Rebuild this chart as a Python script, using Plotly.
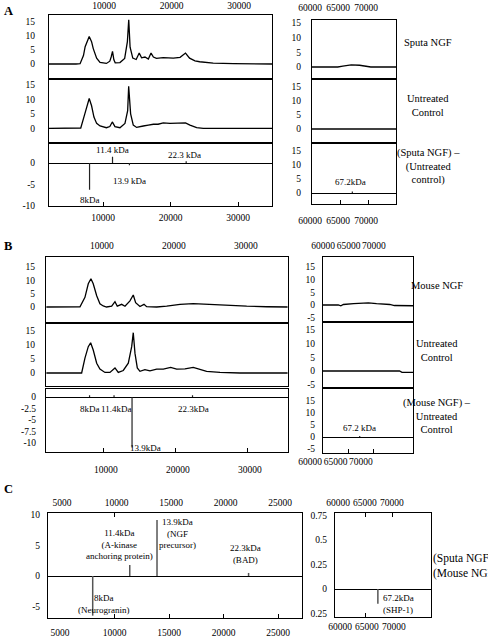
import plotly.graph_objects as go

W, H = 488, 638

# ---------------- data ----------------
# Panel A, left: Sputa NGF spectrum
a_sputa_x = [2000, 4000, 6000, 6600, 7100, 7350, 7700, 7950, 8300, 8550, 9050, 9550, 10500, 11000, 11200,
             11400, 11600, 11800, 12500, 13200, 13600, 13800, 14000, 14400, 14900, 15350, 15700, 16200, 16700,
             17100, 17450, 17900, 18900, 20400, 21400, 22200, 22800, 23600, 24300, 26300, 29300, 32000, 35000]
a_sputa_y = [0, -0.1, 0, 0.1, 3.0, 6.2, 8.8, 9.8, 8.0, 5.5, 2.1, 0.6, 0.2, 1.0, 2.5,
             4.5, 1.5, 0.4, 0.5, 2.0, 8.0, 15.8, 6.0, 2.1, 1.6, 3.9, 2.2, 2.5, 1.8,
             3.9, 2.5, 2.0, 2.3, 2.1, 2.4, 3.9, 2.1, 1.1, 0.8, 0.3, 0.1, 0.0, 0.0]
# Panel A, left: untreated control spectrum
a_ctrl_x = [2000, 4000, 6000, 6700, 7300, 7700, 7950, 8300, 8650, 9050, 9550, 10500, 11000, 11370, 11760,
            12500, 13240, 13640, 13790, 14080, 14470, 14970, 15450, 15950, 16700, 17440, 18150, 18900, 19900,
            20900, 22200, 22860, 23850, 24830, 27800, 32000, 35000]
a_ctrl_y = [0, 0, 0, 0.1, 5.0, 8.3, 10.3, 7.8, 3.9, 1.7, 0.8, 0.2, 0.6, 2.2, 0.6,
            0.2, 1.7, 6.1, 14.5, 5.0, 1.1, 0.3, 0.6, 0.8, 1.1, 1.4, 1.4, 1.9, 1.7,
            1.7, 1.9, 1.1, 0.2, 0.0, 0.1, 0, 0]
# Panel A, difference peaks
a_diff_x = [8000, 11400, 13900, 22300]
a_diff_y = [-6.3, 1.5, -0.5, 0.4]
a_diff_labels = ["8kDa", "11.4 kDa", "13.9 kDa", "22.3 kDa"]
# Panel A, right (60-75 kDa)
a_hi_sputa_x = [60000, 64600, 65500, 66300, 67000, 68500, 69800, 70500, 75000]
a_hi_sputa_y = [0, 0, 0.3, 0.5, 0.7, 0.6, 0.1, 0, 0]
a_hi_ctrl_x = [60000, 75000]
a_hi_ctrl_y = [0, 0]
a_hi_diff_x = [67200]
a_hi_diff_y = [0.5]
a_hi_diff_labels = ["67.2kDa"]

# Panel B, left: Mouse NGF spectrum
b_mouse_x = [2000, 4000, 6000, 6670, 7360, 7820, 8190, 8510, 8990, 9440, 9900, 10360, 11070, 11530, 11850,
             12460, 12920, 13610, 14070, 14400, 15000, 15560, 15930, 17320, 18710, 20560, 22400, 24260, 27040,
             29820, 32600, 35500]
b_mouse_y = [0, 0.1, 0, 0.1, 3.6, 8.7, 10.6, 8.7, 4.2, 1.2, 0.4, 0, 0.3, 2.0, 0.3,
             1.0, 0.3, 2.3, 4.5, 1.6, 0.2, 1.0, 0.1, 0, 0.3, 1.0, 1.3, 1.0, 0.5,
             0.3, 0.1, 0]
# Panel B, left: untreated control spectrum
b_ctrl_x = [2000, 4000, 6000, 6900, 7360, 7820, 8150, 8510, 8990, 9440, 10140, 10830, 11530, 11990, 12680,
            13380, 13850, 14070, 14310, 14630, 15000, 15690, 16390, 17320, 18240, 19260, 20100, 21250, 22400,
            23330, 24260, 26110, 28890, 35500]
b_ctrl_y = [0, 0, 0, 0, 5.3, 9.4, 10.8, 8.2, 3.5, 1.4, 0.2, 0.2, 1.8, 0.2, 0.9,
            3.5, 9.4, 14.4, 7.0, 1.8, 0.6, 1.2, 0.8, 1.4, 1.4, 2.0, 1.4, 1.5, 2.0,
            1.2, 0.6, 0.2, 0, 0]
b_diff_x = [8000, 11400, 13900, 22300]
b_diff_y = [0.4, 0.4, -11.0, 0.4]
b_diff_labels = ["8kDa", "11.4kDa", "13.9kDa", "22.3kDa"]
# Panel B, right
b_hi_mouse_x = [60000, 63000, 63500, 64000, 66000, 68900, 70500, 73100, 74000, 77650]
b_hi_mouse_y = [0, 0, -0.3, 0.2, 0.5, 0.8, 0.5, 0.2, -0.2, -0.3]
b_hi_ctrl_x = [60000, 75000, 75500, 77650]
b_hi_ctrl_y = [0, 0, -0.5, -0.5]
b_hi_diff_x = [67200]
b_hi_diff_y = [0.4]
b_hi_diff_labels = ["67.2 kDa"]

# Panel C
c_diff_x = [8000, 11400, 13900, 22300]
c_diff_y = [-6.5, 1.8, 9.2, 0.5]
c_diff_labels = ["8kDa<br>(Neurogranin)", "11.4kDa<br>(A-kinase<br>anchoring protein)",
                 "13.9kDa<br>(NGF<br>precursor)", "22.3kDa<br>(BAD)"]
c_hi_diff_x = [67200]
c_hi_diff_y = [-0.15]
c_hi_diff_labels = ["67.2kDa<br>(SHP-1)"]

low_ticks_ab = [10000, 20000, 30000]
low_ticks_c = [5000, 10000, 15000, 20000, 25000]
high_ticks = [60000, 65000, 70000]

# ---------------- layout helpers ----------------
SERIF = "Liberation Serif"
TICKFONT = dict(family=SERIF, size=9.5, color="black")
LBLFONT = dict(family=SERIF, size=9, color="black")
TITLEFONT = dict(family=SERIF, size=10.5, color="black")

# panel geometry in pixels: x-span, y-span, x-range, zero pixel, pixels per unit
P = {
    1: dict(px=(49, 272), py=(15, 78), xr=(2000, 35000), zero=64, ppu=2.8),
    2: dict(px=(49, 272), py=(79.5, 142), xr=(2000, 35000), zero=128.3, ppu=2.89),
    3: dict(px=(49, 272), py=(143.5, 206), xr=(2000, 35000), zero=163, ppu=4.25),
    4: dict(px=(312, 396), py=(20, 78), xr=(60000, 75000), zero=67, ppu=2.93),
    5: dict(px=(312, 396), py=(79.5, 142), xr=(60000, 75000), zero=129, ppu=2.8),
    6: dict(px=(312, 396), py=(143.5, 204), xr=(60000, 75000), zero=193, ppu=2.8),
    7: dict(px=(46, 288), py=(257, 322), xr=(1950, 35560), zero=307, ppu=2.67),
    8: dict(px=(46, 288), py=(323.5, 386), xr=(1950, 35560), zero=373, ppu=2.8),
    9: dict(px=(46, 288), py=(388.5, 452), xr=(1950, 35560), zero=397, ppu=4.6),
    10: dict(px=(323, 413), py=(257, 321), xr=(60000, 77650), zero=305, ppu=2.55),
    11: dict(px=(323, 413), py=(322.5, 387), xr=(60000, 77650), zero=371, ppu=2.75),
    12: dict(px=(323, 413), py=(388.5, 453), xr=(60000, 77650), zero=437, ppu=2.4),
    13: dict(px=(48, 302), py=(513, 618), xr=(3900, 27200), zero=576, ppu=6.1),
    14: dict(px=(335, 431), py=(513, 617), xr=(59260, 77040), zero=589, ppu=98),
}


def xdom(p):
    return [p["px"][0] / W, p["px"][1] / W]


def ydom(p):
    return [1 - p["py"][1] / H, 1 - p["py"][0] / H]


def yrng(p):
    return [(p["zero"] - p["py"][1]) / p["ppu"], (p["zero"] - p["py"][0]) / p["ppu"]]


def an(n):
    return "x" if n == 1 else f"x{n}"


def ay(n):
    return "y" if n == 1 else f"y{n}"


fig = go.Figure()


def add_curve(n, xs, ys):
    fig.add_trace(go.Scatter(x=xs, y=ys, mode="lines", line=dict(color="black", width=1.3),
                             xaxis=an(n), yaxis=ay(n), hoverinfo="skip"))


def add_sticks(n, xs, ys, width=1.2, color="#222"):
    sx, sy = [], []
    for x, y in zip(xs, ys):
        sx += [x, x, None]
        sy += [0, y, None]
    fig.add_trace(go.Scatter(x=sx, y=sy, mode="lines", line=dict(color=color, width=width),
                             xaxis=an(n), yaxis=ay(n), hoverinfo="skip"))


# traces
add_curve(1, a_sputa_x, a_sputa_y)
add_curve(2, a_ctrl_x, a_ctrl_y)
add_sticks(3, a_diff_x, a_diff_y)
add_curve(4, a_hi_sputa_x, a_hi_sputa_y)
add_curve(5, a_hi_ctrl_x, a_hi_ctrl_y)
add_sticks(6, a_hi_diff_x, a_hi_diff_y)
add_curve(7, b_mouse_x, b_mouse_y)
add_curve(8, b_ctrl_x, b_ctrl_y)
add_sticks(9, b_diff_x, b_diff_y)
add_curve(10, b_hi_mouse_x, b_hi_mouse_y)
add_curve(11, b_hi_ctrl_x, b_hi_ctrl_y)
add_sticks(12, b_hi_diff_x, b_hi_diff_y)
add_sticks(13, c_diff_x, c_diff_y, width=1.5, color="#555")
add_sticks(14, c_hi_diff_x, c_hi_diff_y, width=1.5, color="#555")
# empty traces to activate the top-label axes of panel C
fig.add_trace(go.Scatter(x=[], y=[], xaxis="x15", yaxis="y13"))
fig.add_trace(go.Scatter(x=[], y=[], xaxis="x16", yaxis="y14"))

layout = dict(width=W, height=H, margin=dict(l=0, r=0, t=0, b=0, pad=0, autoexpand=False),
              showlegend=False, paper_bgcolor="white", plot_bgcolor="white")

ytick_cfg = {
    1: [0, 5, 10, 15], 2: [0, 5, 10, 15], 3: [-10, -5, 0, 5],
    4: [0, 5, 10, 15], 5: [0, 5, 10, 15], 6: [0, 5, 10, 15],
    7: [0, 5, 10, 15], 8: [0, 5, 10, 15], 9: [-10, -7.5, -5, -2.5, 0],
    10: [-5, 0, 5, 10, 15], 11: [-5, 0, 5, 10, 15], 12: [-5, 0, 5, 10, 15],
    13: [-5, 0, 5, 10], 14: [-0.25, 0, 0.25, 0.5, 0.75],
}
ystandoff = {1: 11, 2: 11, 3: 11, 4: 8, 5: 8, 6: 8, 7: 8, 8: 8, 9: 7, 10: 5, 11: 5, 12: 5, 13: 5, 14: 5}
zero_panels = {3, 6, 9, 12, 13, 14}

# x axis config: (side, tickvals or None, shift, standoff, minor tickvals)
xcfg = {
    1: ("top", low_ticks_ab, 1, 1, None),
    2: (None, None, 0, 0, None),
    3: ("bottom", low_ticks_ab, 0, 3, low_ticks_ab),
    4: ("top", high_ticks, -2, 4, None),
    5: (None, None, 0, 0, None),
    6: ("bottom", high_ticks, -2, 8, [65000, 70000]),
    7: ("top", low_ticks_ab, -2, 3, None),
    8: (None, None, 0, 0, None),
    9: ("bottom", low_ticks_ab, 2, 9, low_ticks_ab),
    10: ("top", high_ticks, 0, 3, None),
    11: (None, None, 0, 0, None),
    12: ("bottom", high_ticks, -13, 0, [65000, 70000]),
    13: ("bottom", low_ticks_c, 0, 6, [10000, 15000, 20000, 25000]),
    14: ("bottom", high_ticks, 1, 1, [65000]),
}

for n, p in P.items():
    side, tv, shift, standoff, minor = xcfg[n]
    xa = dict(domain=xdom(p), range=list(p["xr"]), anchor=ay(n), showline=True, mirror=True,
              linecolor="black", linewidth=1, showgrid=False, zeroline=False, ticks="",
              tickfont=TICKFONT, fixedrange=True, tickangle=0, automargin=False)
    if side is None:
        xa["showticklabels"] = False
    else:
        xa.update(side=side, tickmode="array", tickvals=tv, ticktext=[str(v) for v in tv],
                  ticklabelshift=shift, ticklabelstandoff=standoff)
    if minor:
        xa["minor"] = dict(tickmode="array", tickvals=minor, ticks="inside", ticklen=4,
                           tickcolor="black", tickwidth=1)
    layout["xaxis" if n == 1 else f"xaxis{n}"] = xa

    yt = ytick_cfg[n]
    ytext = ["0.25" if v == -0.25 else (f"{v:g}") for v in yt]
    ya = dict(domain=ydom(p), range=yrng(p), anchor=an(n), showline=True, mirror=True,
              linecolor="black", linewidth=1, showgrid=False, ticks="", tickmode="array",
              tickvals=yt, ticktext=ytext, tickfont=TICKFONT, ticklabelstandoff=ystandoff[n],
              zeroline=n in zero_panels, zerolinecolor="black", zerolinewidth=1, fixedrange=True,
              automargin=False)
    layout["yaxis" if n == 1 else f"yaxis{n}"] = ya

# top label axes for panel C
layout["xaxis15"] = dict(overlaying="x13", side="top", anchor="y13", range=list(P[13]["xr"]),
                         tickmode="array", tickvals=low_ticks_c, ticktext=[str(v) for v in low_ticks_c],
                         tickfont=TICKFONT, ticks="", showline=False, showgrid=False, zeroline=False,
                         ticklabelstandoff=4, ticklabelshift=2, tickangle=0, automargin=False,
                         minor=dict(tickmode="array", tickvals=[10000], ticks="inside", ticklen=4,
                                    tickcolor="black", tickwidth=1))
layout["xaxis16"] = dict(overlaying="x14", side="top", anchor="y14", range=list(P[14]["xr"]),
                         tickmode="array", tickvals=high_ticks, ticktext=[str(v) for v in high_ticks],
                         tickfont=TICKFONT, ticks="", showline=False, showgrid=False, zeroline=False,
                         ticklabelstandoff=4, ticklabelshift=-1, tickangle=0, automargin=False,
                         minor=dict(tickmode="array", tickvals=[65000, 70000], ticks="inside", ticklen=4,
                                    tickcolor="black", tickwidth=1))

annotations = []


def paper_text(text, x, y, xanchor="center", align="center", font=TITLEFONT):
    annotations.append(dict(text=text, xref="paper", yref="paper", x=x / W, y=1 - y / H,
                            xanchor=xanchor, yanchor="middle", align=align, showarrow=False, font=font))


# panel letters
for letter, yy in (("A", 11), ("B", 246), ("C", 489)):
    paper_text(f"<b>{letter}</b>", 8, yy, font=dict(family=SERIF, size=12.5, color="black"))

# right-hand titles
paper_text("Sputa NGF", 428, 43)
paper_text("Untreated<br>Control", 428, 106)
paper_text("(Sputa NGF) –<br>(Untreated<br>control)", 428, 166)
paper_text("Mouse NGF", 437, 285)
paper_text("Untreated<br>Control", 437, 350)
paper_text("(Mouse NGF) –<br>Untreated<br>Control", 437, 416)
paper_text("(Sputa NGF) –<br>(Mouse NGF)", 431, 566, xanchor="left", align="left",
           font=dict(family=SERIF, size=11.5, color="black"))


def stick_labels(n, xs, ys, texts, offs, font=LBLFONT, align="center"):
    for x, y, t, (xa_, ya_, dx, dy) in zip(xs, ys, texts, offs):
        annotations.append(dict(text=t, xref=an(n), yref=ay(n), x=x, y=y, xanchor=xa_, yanchor=ya_,
                                xshift=dx, yshift=dy, showarrow=False, font=font, align=align))


stick_labels(3, a_diff_x, a_diff_y, a_diff_labels,
             [("center", "top", 0, -3), ("center", "bottom", 0, 0),
              ("center", "top", 0, -9), ("center", "bottom", -2, -1)])
stick_labels(6, a_hi_diff_x, a_hi_diff_y, a_hi_diff_labels, [("center", "bottom", -2, 3)])
stick_labels(9, b_diff_x, b_diff_y, b_diff_labels,
             [("center", "top", 0, -7), ("center", "top", 2, -7),
              ("left", "middle", -4, 0), ("center", "top", 1, -7)])
stick_labels(12, b_hi_diff_x, b_hi_diff_y, b_hi_diff_labels, [("center", "bottom", 0, 1)])
stick_labels(13, c_diff_x, c_diff_y, c_diff_labels,
             [("center", "bottom", 11, -1), ("center", "bottom", -10, 2),
              ("center", "top", 20, 5), ("center", "bottom", -3, 6)])
stick_labels(14, c_hi_diff_x, c_hi_diff_y, c_hi_diff_labels, [("left", "middle", 3, 0)], align="left")

layout["annotations"] = annotations
fig.update_layout(**layout)
fig.write_html("out.html", config={"displayModeBar": False},
               post_script="document.body.style.margin='0';document.body.style.overflow='hidden';")
